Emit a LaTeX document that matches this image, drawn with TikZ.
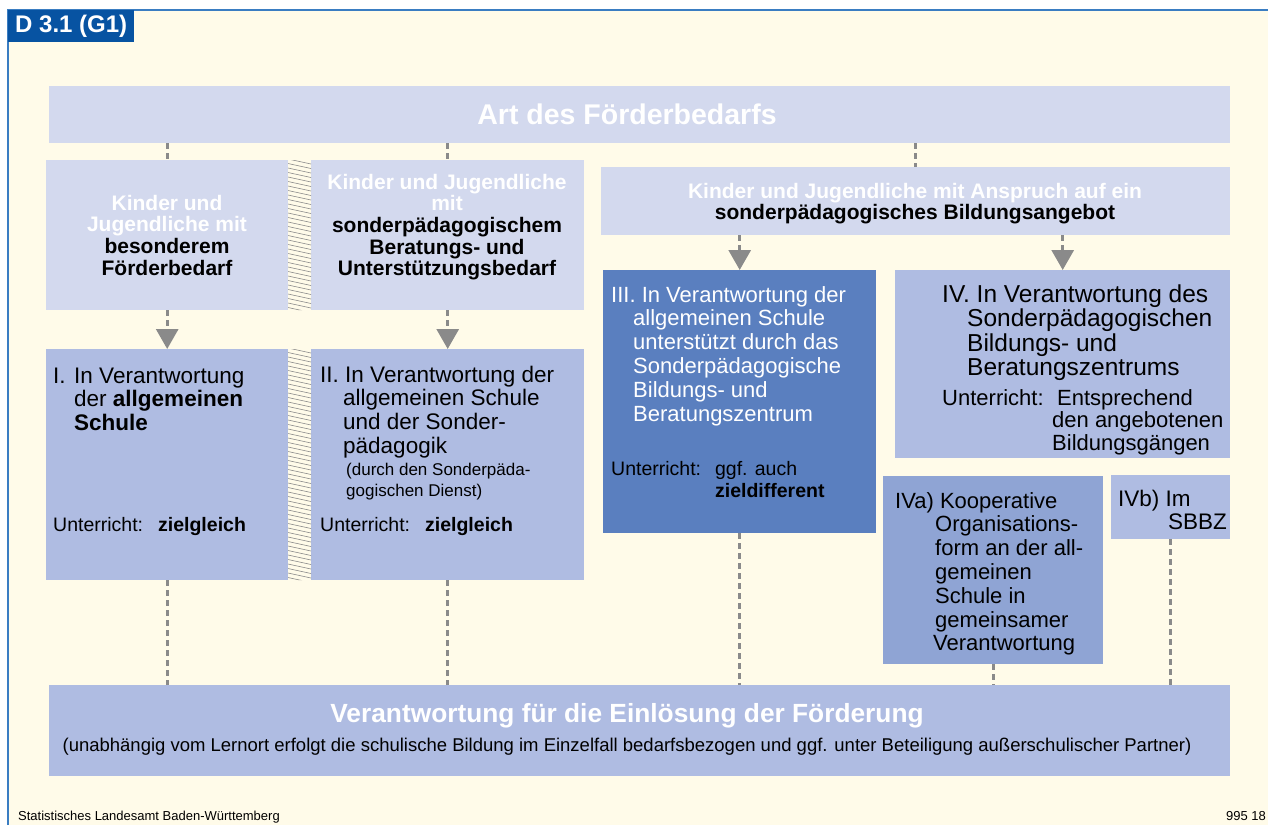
\documentclass[tikz,border=0pt]{standalone}
\usepackage{fontspec}
\setmainfont{Liberation Sans}
\usetikzlibrary{arrows.meta}

\definecolor{cream}{HTML}{FFFBE9}
\definecolor{frameblue}{HTML}{3A7DC2}
\definecolor{headblue}{HTML}{0753A2}
\definecolor{palebox}{HTML}{D3D9EE}
\definecolor{midbox}{HTML}{AFBCE2}
\definecolor{darkbox}{HTML}{5A7FBF}
\definecolor{ivabox}{HTML}{8FA4D4}
\definecolor{linkgray}{HTML}{8A8A8A}

\newcommand{\zeilen}[2]{\begin{tabular}[t]{@{}#1@{}}#2\end{tabular}}
\newcommand{\weiss}[1]{\textcolor{white}{#1}}

\tikzset{
  box/.style={rectangle, inner sep=0pt, anchor=north west},
  link/.style={draw=linkgray, line width=3pt, dash pattern=on 6pt off 4pt},
  pfeil/.style={link, -{Triangle[width=22pt,length=20pt,fill=linkgray]}},
  txt/.style={anchor=base west, inner sep=0pt, font=\fontsize{22.5}{23.8}\selectfont},
  ctxt/.style={anchor=base, inner sep=0pt, font=\fontsize{21}{21.5}\selectfont\bfseries},
  klein/.style={anchor=base west, inner sep=0pt, font=\fontsize{17}{21}\selectfont},
  unt/.style={anchor=base west, inner sep=0pt, font=\fontsize{19.5}{22.5}\selectfont},
  hatch/.style={draw=linkgray, line width=0.6pt},
}

\begin{document}
\begin{tikzpicture}[x=1pt, y=-1pt]
	\useasboundingbox (0,0) rectangle (1268,825);
	\fill[white] (0,0) rectangle (1268,825);
	\fill[cream] (8,10) rectangle (1268,825); % Hintergrund
	\draw[frameblue, line width=2pt] (8,825) -- (8,10) -- (1268,10);
	
	% Kopf
	\fill[headblue] (8,10) rectangle (134,42);
	\node[anchor=west, inner sep=0pt, text=white, font=\fontsize{24}{26}\selectfont\bfseries] (kopf) at (15,26.5) {D 3.1 (G1)};
	
	% Kaesten
	\node[box, fill=palebox, minimum width=1181pt, minimum height=57pt] (art) at (49,86) {};
	\node[box, fill=palebox, minimum width=242pt, minimum height=150pt] (A) at (46,160) {};
	\node[box, fill=palebox, minimum width=273pt, minimum height=150pt] (B) at (311,160) {};
	\node[box, fill=palebox, minimum width=629pt, minimum height=68pt] (C) at (601,167) {};
	\node[box, fill=midbox, minimum width=242pt, minimum height=231pt] (I) at (46,349) {};
	\node[box, fill=midbox, minimum width=273pt, minimum height=231pt] (II) at (311,349) {};
	\node[box, fill=darkbox, minimum width=273pt, minimum height=263pt] (III) at (603,270) {};
	\node[box, fill=midbox, minimum width=335pt, minimum height=188pt] (IV) at (895,270) {};
	\node[box, fill=ivabox, minimum width=220pt, minimum height=188pt] (IVa) at (883,476) {};
	\node[box, fill=midbox, minimum width=119pt, minimum height=64pt] (IVb) at (1111,475) {};
	\node[box, fill=midbox, minimum width=1181pt, minimum height=91pt] (bot) at (49,685) {};
	
	% Schraffur zwischen den Kaesten
	\begin{scope}
		\clip (288,160) rectangle (311,310) (288,349) rectangle (311,580);
		\foreach \y in {150,154.5,...,590} \draw[hatch] (288,\y) -- (311,\y+5);
	\end{scope}
	
	% Verbindungen
	\draw[link] (art.south -| A.north) -- (A.north);
	\draw[link] (art.south -| B.north) -- (B.north);
	\draw[link] (art.south -| C.north) -- (C.north);
	\draw[pfeil] (A.south) -- (I.north);
	\draw[pfeil] (B.south) -- (II.north);
	\draw[pfeil] (C.south -| III.north) -- (III.north);
	\draw[pfeil] (C.south -| IV.north) -- (IV.north);
	\draw[link] (I.south) -- (I.south |- bot.north);
	\draw[link] (II.south) -- (II.south |- bot.north);
	\draw[link] (III.south) -- (III.south |- bot.north);
	\draw[link] (IVa.south) -- (IVa.south |- bot.north);
	\draw[link] (IVb.south) -- (IVb.south |- bot.north);
	
	% Texte
	\node[anchor=center, inner sep=0pt, text=white, font=\fontsize{28.5}{30}\selectfont\bfseries] (arttxt) at (627,114) {Art des Förderbedarfs};
	\node[ctxt] (Atxt) at (167,210) {\zeilen{c}{\weiss{Kinder und}\\\weiss{Jugendliche mit}\\besonderem\\Förderbedarf}};
	\node[ctxt] (Btxt) at (447,189) {\zeilen{c}{\weiss{Kinder und Jugendliche}\\\weiss{mit}\\sonderpädagogischem\\Beratungs- und\\Unterstützungsbedarf}};
	\node[ctxt] (Ctxt) at (915,198) {\zeilen{c}{\weiss{Kinder und Jugendliche mit Anspruch auf ein}\\sonderpädagogisches Bildungsangebot}};
	
	\node[txt] (Itxt) at (53,383) {\zeilen{l}{I.\hspace{8.5pt}In Verantwortung\\\hspace*{21pt}der \textbf{allgemeinen}\\\hspace*{21pt}\textbf{Schule}}};
	\node[unt] (Iu) at (53,531) {Unterricht:\hspace{15pt}\textbf{zielgleich}};
	
	\node[txt] (IItxt) at (320,382) {\zeilen{l}{II. In Verantwortung der\\\hspace*{23pt}allgemeinen Schule\\\hspace*{23pt}und der Sonder-\\\hspace*{23pt}pädagogik}};
	\node[klein] (IIk) at (346,475) {\zeilen{l}{(durch den Sonderpäda-\\gogischen Dienst)}};
	\node[unt] (IIu) at (320,531) {Unterricht:\hspace{15pt}\textbf{zielgleich}};
	
	\node[txt, text=white, font=\fontsize{22}{23.8}\selectfont] (IIItxt) at (611,302) {\zeilen{l}{III. In Verantwortung der\\\hspace*{22pt}allgemeinen Schule\\\hspace*{22pt}unterstützt durch das\\\hspace*{22pt}Sonderpädagogische\\\hspace*{22pt}Bildungs- und\\\hspace*{22pt}Beratungszentrum}};
	\node[unt] (IIIu) at (611,475) {\zeilen{l@{\hspace{14pt}}l}{Unterricht: & ggf. auch\\ & \textbf{zieldifferent}}};
	
	\node[txt, font=\fontsize{24.5}{23.8}\selectfont] (IVtxt) at (942,302) {\zeilen{l}{IV. In Verantwortung des\\\hspace*{25pt}Sonderpädagogischen\\\hspace*{25pt}Bildungs- und\\\hspace*{25pt}Beratungszentrums}};
	\node[unt, font=\fontsize{22}{22.5}\selectfont] (IVu) at (942,405) {\zeilen{l}{Unterricht:\hspace{13.5pt}Entsprechend\\\hspace*{110pt}den angebotenen\\\hspace*{110pt}Bildungsgängen}};
	
	\node[txt, font=\fontsize{22}{23.8}\selectfont] (IVatxt) at (895,508) {\zeilen{l}{IVa) Kooperative\\\hspace*{40pt}Organisations-\\\hspace*{40pt}form an der all-\\\hspace*{40pt}gemeinen\\\hspace*{40pt}Schule in\\\hspace*{40pt}gemeinsamer\\\hspace*{38pt}Verantwortung}};
	\node[txt, font=\fontsize{22.5}{23.5}\selectfont] (IVbtxt) at (1118,506) {\zeilen{l}{IVb) Im\\\hspace*{50pt}SBBZ}};
	
	\node[anchor=center, inner sep=0pt, text=white, font=\fontsize{26.3}{28}\selectfont\bfseries] (bottxt) at (627,716) {Verantwortung für die Einlösung der Förderung};
	\node[anchor=center, inner sep=0pt, font=\fontsize{18.5}{20}\selectfont] (botklein) at (627,747) {(unabhängig vom Lernort erfolgt die schulische Bildung im Einzelfall bedarfsbezogen und ggf. unter Beteiligung außerschulischer Partner)};
	
	% Fusszeile
	\node[anchor=base west, inner sep=0pt, font=\fontsize{13}{15}\selectfont] (quelle) at (18,820) {Statistisches Landesamt Baden-Württemberg};
	\node[anchor=base east, inner sep=0pt, font=\fontsize{13}{15}\selectfont] (nummer) at (1266,820) {995 18};
\end{tikzpicture}
\end{document}
